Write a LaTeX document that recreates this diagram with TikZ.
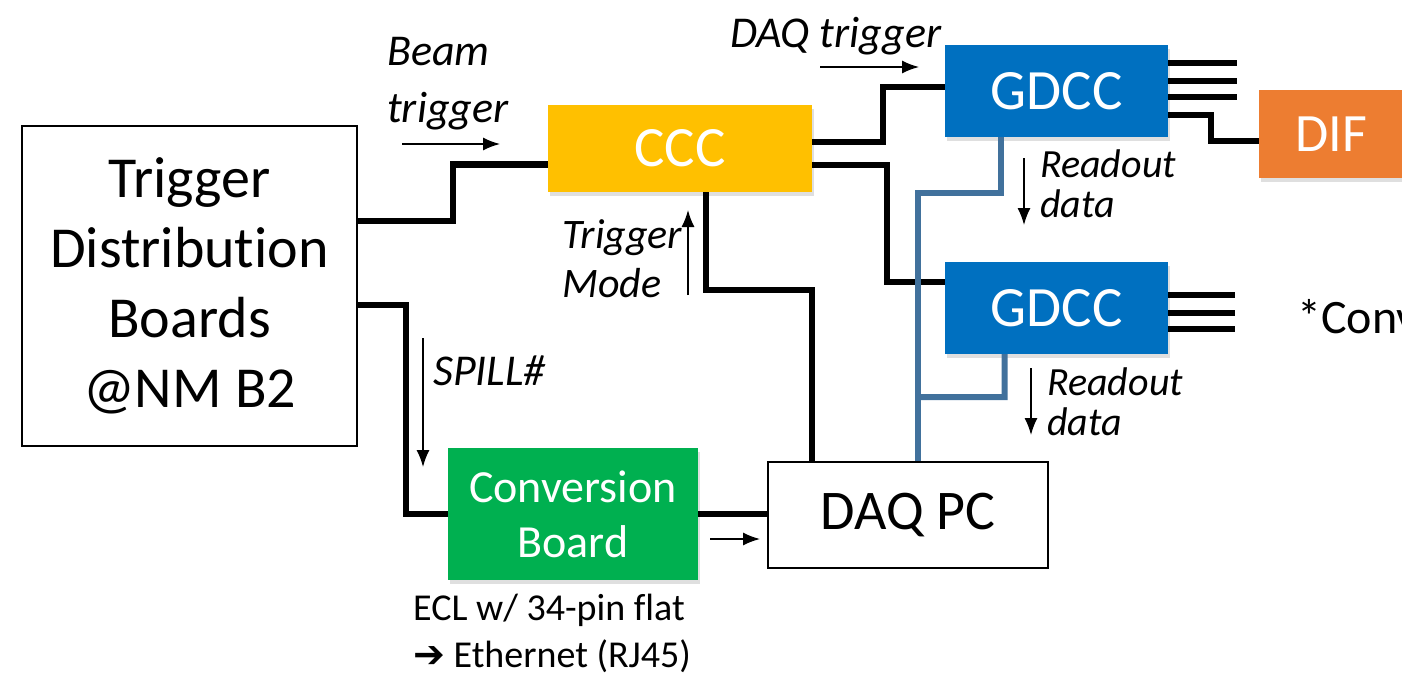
\documentclass[tikz,border=0pt]{standalone}
\usepackage{fontspec}
\setmainfont{Carlito}[Ligatures=NoCommon]
\newfontfamily\dejavu{DejaVu Sans Bold}
\usetikzlibrary{arrows.meta,shadows,calc}
\definecolor{cccyellow}{HTML}{FFC000}
\definecolor{gdccblue}{HTML}{0070C0}
\definecolor{diforange}{HTML}{ED7D31}
\definecolor{convgreen}{HTML}{00B050}
\definecolor{readblue}{HTML}{41719C}
\tikzset{
  box/.style={draw=none, inner sep=0pt, align=center, text=white,
    drop shadow={shadow xshift=2pt, shadow yshift=-4pt, opacity=0.25}},
  wbox/.style={draw=black, line width=2pt, fill=white, inner sep=0pt, align=center, text=black},
  wire/.style={line width=6.5pt, line join=miter, black},
  bwire/.style={line width=6pt, line join=miter, readblue},
  sig/.style={line width=1.5pt, -{Latex[length=17pt,width=13pt]}},
  lab/.style={inner sep=0pt, anchor=base west, align=left, font=\itshape},
}
\begin{document}
\begin{tikzpicture}[x=1pt,y=-1pt]
\useasboundingbox (0,0) rectangle (1402,675);
\clip (0,0) rectangle (1402,675);
% boxes
\node[wbox, minimum width=335pt, minimum height=320pt,
  font=\fontsize{58}{70}\selectfont] (tdb) at (189.5,286) {Trigger\\Distribution\\Boards\\@NM B2};
\node[box, fill=cccyellow, minimum width=264pt, minimum height=87pt,
  font=\fontsize{57}{68}\selectfont] (ccc) at (680,148.5) {CCC};
\node[box, fill=gdccblue, minimum width=223pt, minimum height=92pt,
  font=\fontsize{57}{68}\selectfont] (gdcc1) at (1056.5,91) {GDCC};
\node[box, fill=gdccblue, minimum width=223pt, minimum height=92pt,
  font=\fontsize{57}{68}\selectfont] (gdcc2) at (1056.5,308) {GDCC};
\node[box, fill=diforange, minimum width=145pt, minimum height=88pt,
  font=\fontsize{54}{64}\selectfont] (dif) at (1331.5,134) {DIF};
\node[box, fill=convgreen, minimum width=250pt, minimum height=132pt,
  font=\fontsize{46}{55}\selectfont] (conv) at (573,514) {Conversion\\Board};
\node[wbox, minimum width=280pt, minimum height=106pt,
  font=\fontsize{56}{66}\selectfont] (daq) at (908,515) {DAQ PC};
% black wires
\draw[wire] ([yshift=-96pt]tdb.north east) -- ++(95,0) |- ([yshift=-16pt]ccc.west);
\draw[wire] ([yshift=-180pt]tdb.north east) -- ++(48,0) |- (conv.west);
\draw[wire] (conv.east) -- (conv.east -| daq.west);
\draw[wire] ([xshift=26pt]ccc.south) -- ++(0,98) -| ([xshift=-96pt]daq.north);
\draw[wire] ([yshift=6.5pt]ccc.east) -- ++(71,0) |- ([yshift=4pt]gdcc1.west);
\draw[wire] ([yshift=-16.5pt]ccc.east) -- ++(75,0) |- ([yshift=26pt]gdcc2.west);
\draw[wire] ([yshift=-18pt]gdcc1.north east) -- ++(69,0);
\draw[wire] ([yshift=-36pt]gdcc1.north east) -- ++(69,0);
\draw[wire] ([yshift=-52pt]gdcc1.north east) -- ++(69,0);
\draw[wire] ([yshift=-70pt]gdcc1.north east) -- ++(43,0) |- ([yshift=-7pt]dif.west);
\draw[wire] ([yshift=-33pt]gdcc2.north east) -- ++(67,0);
\draw[wire] ([yshift=-51pt]gdcc2.north east) -- ++(67,0);
\draw[wire] ([yshift=-67pt]gdcc2.north east) -- ++(67,0);
% blue readout wires
\coordinate (j) at (918,397);
\draw[bwire] ([xshift=-56pt]gdcc1.south) -- ++(0,56) -| ([xshift=10pt]daq.north);
\draw[bwire] ([xshift=-52pt]gdcc2.south) -- ++(0,43) -- (j);
% signal arrows
\coordinate (bt1) at (402,144); \coordinate (bt2) at (500,144);
\coordinate (dt1) at (820,67);  \coordinate (dt2) at (919,67);
\coordinate (tm1) at (688,295); \coordinate (tm2) at (688,210);
\coordinate (r11) at (1024,158); \coordinate (r12) at (1024,225);
\coordinate (r21) at (1031,368); \coordinate (r22) at (1031,435);
\coordinate (sp1) at (423,338); \coordinate (sp2) at (423,467);
\coordinate (cd1) at (710,539); \coordinate (cd2) at (760,539);
\draw[sig] (bt1) -- (bt2);
\draw[sig] (dt1) -- (dt2);
\draw[sig] (tm1) -- (tm2);
\draw[sig] (r11) -- (r12);
\draw[sig] (r21) -- (r22);
\draw[sig] (sp1) -- (sp2);
\draw[sig] (cd1) -- (cd2);
% labels
\node[lab, font=\itshape\fontsize{44}{57}\selectfont] (lbeam) at (387,122) {Beam\\trigger};
\node[lab, font=\itshape\fontsize{44}{53}\selectfont] (ldaq) at (730,47) {DAQ trigger};
\node[lab, font=\itshape\fontsize{40}{40}\selectfont] (lr1) at (1040,217) {Readout\\data};
\node[lab, font=\itshape\fontsize{40}{40}\selectfont] (lr2) at (1047,435) {Readout\\data};
\node[lab, font=\itshape\fontsize{42}{49}\selectfont] (ltm) at (562,297) {Trigger\\Mode};
\node[lab, font=\itshape\fontsize{44}{53}\selectfont] (lsp) at (433,385) {SPILL\#};
\node[lab, font=\upshape\fontsize{38}{47}\selectfont] (lecl) at (413,667) {ECL w/ 34-pin flat\\{\dejavu ➔} Ethernet (RJ45)};
\node[lab, font=\upshape\fontsize{48}{58}\selectfont] (lconv) at (1297,333) {*Conv};
\end{tikzpicture}
\end{document}
